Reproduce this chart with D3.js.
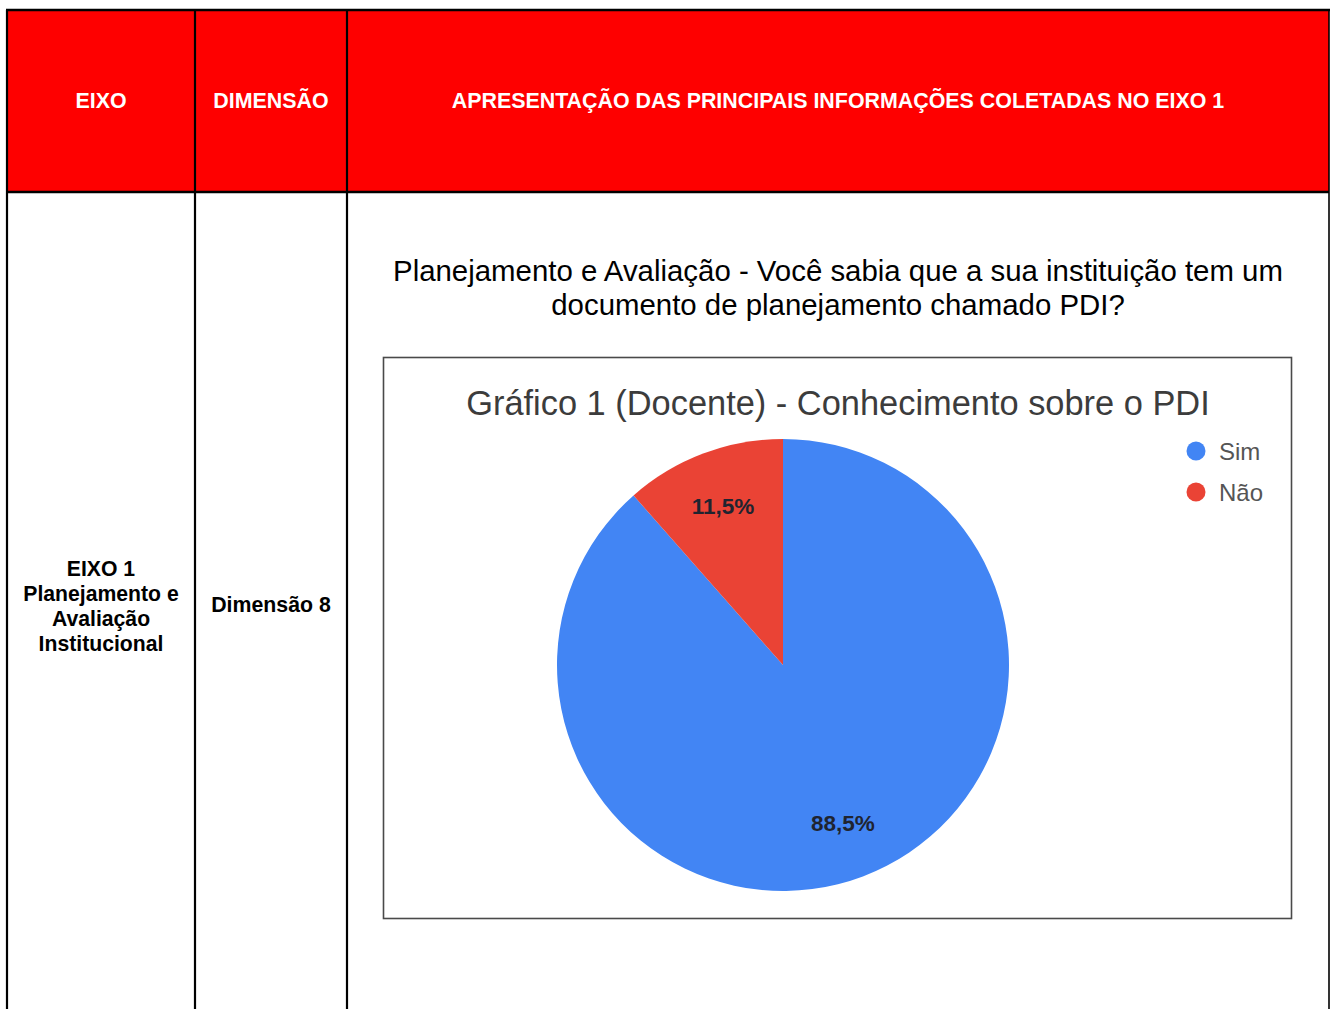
<!DOCTYPE html>
<html><head><meta charset="utf-8">
<script src="https://cdn.jsdelivr.net/npm/d3@7"></script>
<style>html,body{margin:0;padding:0;background:#fff;overflow:hidden}</style>
</head><body>
<svg id="c" width="1330" height="1009"></svg>
<script>
const headers = ["EIXO", "DIMENSÃO", "APRESENTAÇÃO DAS PRINCIPAIS INFORMAÇÕES COLETADAS NO EIXO 1"];
const eixoLines = ["EIXO 1", "Planejamento e", "Avaliação", "Institucional"];
const dimensao = "Dimensão 8";
const questionLines = ["Planejamento e Avaliação - Você sabia que a sua instituição tem um", "documento de planejamento chamado PDI?"];
const chartTitle = "Gráfico 1 (Docente) - Conhecimento sobre o PDI";
const categories = ["Sim", "Não"];
const values = [88.5, 11.5];
const labels = ["88,5%", "11,5%"];
const colors = ["#4285f4", "#ea4335"];

const svg = d3.select("#c");
const font = "'Liberation Sans', Arial, sans-serif";
const colX = [7, 195, 347, 1329];
const yTop = 10, headBottom = 192, yBottom = 1009;

// header background
svg.append("rect").attr("x", colX[0]).attr("y", yTop).attr("width", colX[3]-colX[0]).attr("height", headBottom-yTop).attr("fill", "#fe0000");

// header texts
headers.forEach((h, i) => {
  svg.append("text").attr("x", (colX[i]+colX[i+1])/2).attr("y", 101)
    .attr("text-anchor", "middle").attr("dominant-baseline", "central")
    .attr("font-family", font).attr("font-weight", "bold").attr("font-size", 21.4)
    .attr("fill", "#fff").text(h);
});

// grid lines
const g = svg.append("g").attr("stroke", "#000");
g.append("line").attr("x1", colX[0]-1).attr("x2", colX[3]+1).attr("y1", yTop).attr("y2", yTop).attr("stroke-width", 2.5);
g.append("line").attr("x1", colX[0]).attr("x2", colX[3]).attr("y1", headBottom).attr("y2", headBottom).attr("stroke-width", 2.5);
[0,1,2].forEach(i => g.append("line").attr("x1", colX[i]).attr("x2", colX[i]).attr("y1", yTop).attr("y2", yBottom).attr("stroke-width", 2.2));
g.append("line").attr("x1", colX[3]).attr("x2", colX[3]).attr("y1", yTop).attr("y2", yBottom).attr("stroke-width", 1.6);

// body texts
eixoLines.forEach((t, i) => {
  svg.append("text").attr("x", (colX[0]+colX[1])/2).attr("y", 568 + i*25)
    .attr("text-anchor", "middle").attr("dominant-baseline", "central")
    .attr("font-family", font).attr("font-weight", "bold").attr("font-size", 21.2)
    .attr("fill", "#000").text(t);
});
svg.append("text").attr("x", (colX[1]+colX[2])/2).attr("y", 605)
  .attr("text-anchor", "middle").attr("dominant-baseline", "central")
  .attr("font-family", font).attr("font-weight", "bold").attr("font-size", 21.3)
  .attr("fill", "#000").text(dimensao);

questionLines.forEach((t, i) => {
  svg.append("text").attr("x", (colX[2]+colX[3])/2).attr("y", 270 + i*34)
    .attr("text-anchor", "middle").attr("dominant-baseline", "central")
    .attr("font-family", font).attr("font-size", 29.4)
    .attr("fill", "#000").text(t);
});

// chart box
const box = {x: 383.5, y: 357.5, w: 908, h: 561};
svg.append("rect").attr("x", box.x).attr("y", box.y).attr("width", box.w).attr("height", box.h)
  .attr("fill", "#fff").attr("stroke", "#4a4a4a").attr("stroke-width", 1.6);

svg.append("text").attr("x", 838).attr("y", 403)
  .attr("text-anchor", "middle").attr("dominant-baseline", "central")
  .attr("font-family", font).attr("font-size", 34.4)
  .attr("fill", "#3c3c3c").text(chartTitle);

// pie
const cx = 783, cy = 665, r = 226;
const pie = d3.pie().sort(null).value(d => d.v);
const data = categories.map((c, i) => ({c, v: values[i], label: labels[i], color: colors[i]}));
const arcs = pie(data);
const arc = d3.arc().innerRadius(0).outerRadius(r);
const labelArc = d3.arc().innerRadius(r*0.75).outerRadius(r*0.75);
const pg = svg.append("g").attr("transform", `translate(${cx},${cy})`);
pg.selectAll("path").data(arcs).join("path").attr("d", arc).attr("fill", d => d.data.color);
pg.selectAll("text").data(arcs).join("text")
  .attr("transform", d => `translate(${labelArc.centroid(d)})`)
  .attr("text-anchor", "middle").attr("dominant-baseline", "central")
  .attr("font-family", font).attr("font-weight", "bold").attr("font-size", 22.5)
  .attr("fill", "#1f2430").text(d => d.data.label);

// legend
const lg = svg.append("g");
data.forEach((d, i) => {
  const y = 451 + i*41;
  lg.append("circle").attr("cx", 1196).attr("cy", y).attr("r", 9.5).attr("fill", d.color);
  lg.append("text").attr("x", 1219).attr("y", y).attr("dominant-baseline", "central")
    .attr("font-family", font).attr("font-size", 24)
    .attr("fill", "#555").text(d.c);
});
</script>
</body></html>
